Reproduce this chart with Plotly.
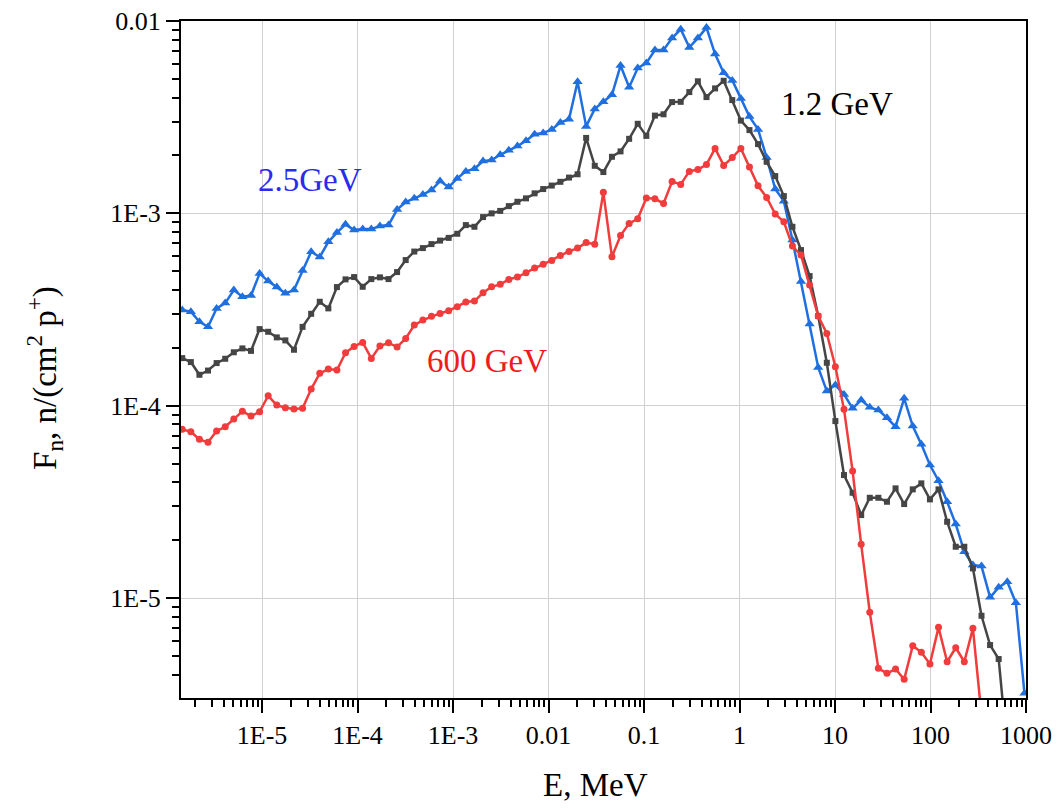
import plotly.graph_objects as go

# Neutron energy grid, MeV
E_MeV = [
    1.459e-6, 1.795e-6, 2.208e-6, 2.716e-6, 3.342e-6, 4.111e-6, 5.058e-6, 6.223e-6, 7.656e-6, 9.419e-6,
    1.159e-5, 1.426e-5, 1.754e-5, 2.158e-5, 2.655e-5, 3.266e-5, 4.018e-5, 4.943e-5, 6.081e-5, 7.482e-5, 9.204e-5,
    1.132e-4, 1.393e-4, 1.714e-4, 2.109e-4, 2.594e-4, 3.192e-4, 3.926e-4, 4.831e-4, 5.943e-4, 7.311e-4, 8.995e-4,
    1.107e-3, 1.361e-3, 1.675e-3, 2.061e-3, 2.535e-3, 3.119e-3, 3.837e-3, 4.721e-3, 5.808e-3, 7.145e-3, 8.790e-3,
    1.081e-2, 1.330e-2, 1.637e-2, 2.014e-2, 2.477e-2, 3.048e-2, 3.750e-2, 4.613e-2, 5.675e-2, 6.982e-2, 8.590e-2,
    0.1057, 0.1300, 0.1600, 0.1968, 0.2421, 0.2979, 0.3664, 0.4508, 0.5546, 0.6823, 0.8395,
    1.033, 1.271, 1.563, 1.923, 2.366, 2.911, 3.581, 4.406, 5.420, 6.668, 8.204,
    10.09, 12.42, 15.28, 18.79, 23.12, 28.44, 34.99, 43.05, 52.97, 65.16, 80.17, 98.63,
    121.3, 149.3, 183.7, 226.0, 278.0, 342.0, 420.7, 517.6, 636.8, 783.4, 963.8,
]

# Neutron fluence per proton, n/(cm^2 p+)
flux_2_5GeV = [
    3.144e-4, 3.081e-4, 2.733e-4, 2.574e-4, 3.208e-4, 3.418e-4, 3.993e-4, 3.686e-4, 3.740e-4, 4.866e-4,
    4.448e-4, 4.139e-4, 3.839e-4, 3.993e-4, 5.044e-4, 6.316e-4, 5.929e-4, 7.119e-4, 7.947e-4, 8.768e-4, 8.189e-4,
    8.288e-4, 8.288e-4, 8.590e-4, 8.694e-4, 1.047e-3, 1.145e-3, 1.197e-3, 1.252e-3, 1.322e-3, 1.472e-3, 1.370e-3,
    1.520e-3, 1.653e-3, 1.705e-3, 1.870e-3, 1.892e-3, 2.017e-3, 2.126e-3, 2.238e-3, 2.384e-3, 2.577e-3, 2.615e-3,
    2.733e-3, 2.964e-3, 3.084e-3, 4.831e-3, 2.833e-3, 3.493e-3, 3.802e-3, 4.134e-3, 5.865e-3, 4.522e-3, 5.692e-3,
    6.043e-3, 7.060e-3, 7.060e-3, 8.150e-3, 9.056e-3, 7.291e-3, 8.150e-3, 9.241e-3, 6.730e-3, 5.381e-3, 4.913e-3,
    3.960e-3, 3.185e-3, 2.733e-3, 1.950e-3, 1.338e-3, 1.158e-3, 7.264e-4, 4.421e-4, 2.658e-4, 1.583e-4, 1.192e-4,
    1.281e-4, 1.146e-4, 9.694e-5, 1.071e-4, 9.811e-5, 9.497e-5, 8.662e-5, 7.779e-5, 1.093e-4, 7.844e-5, 6.302e-5, 4.919e-5,
    4.076e-5, 3.170e-5, 2.427e-5, 1.743e-5, 1.486e-5, 1.468e-5, 1.010e-5, 1.138e-5, 1.217e-5, 9.465e-6, 3.201e-6,
]

flux_1_2GeV = [
    1.769e-4, 1.687e-4, 1.449e-4, 1.524e-4, 1.667e-4, 1.755e-4, 1.897e-4, 1.987e-4, 1.929e-4, 2.503e-4,
    2.424e-4, 2.267e-4, 2.187e-4, 1.955e-4, 2.571e-4, 3.007e-4, 3.472e-4, 3.208e-4, 4.139e-4, 4.539e-4, 4.666e-4,
    4.154e-4, 4.555e-4, 4.650e-4, 4.555e-4, 4.954e-4, 5.719e-4, 6.332e-4, 6.601e-4, 6.924e-4, 7.221e-4, 7.459e-4,
    7.834e-4, 8.694e-4, 8.519e-4, 9.567e-4, 1.000e-3, 1.030e-3, 1.091e-3, 1.149e-3, 1.197e-3, 1.271e-3, 1.338e-3,
    1.395e-3, 1.459e-3, 1.535e-3, 1.597e-3, 2.468e-3, 1.767e-3, 1.640e-3, 1.969e-3, 2.100e-3, 2.441e-3, 2.922e-3,
    2.528e-3, 3.223e-3, 3.274e-3, 3.789e-3, 3.800e-3, 4.271e-3, 4.860e-3, 4.023e-3, 4.464e-3, 4.890e-3, 3.881e-3,
    3.036e-3, 2.710e-3, 2.292e-3, 1.854e-3, 1.563e-3, 1.230e-3, 8.519e-4, 6.445e-4, 4.722e-4, 2.926e-4, 1.673e-4,
    8.327e-5, 4.364e-5, 3.530e-5, 2.703e-5, 3.325e-5, 3.325e-5, 3.170e-5, 3.721e-5, 3.084e-5, 3.677e-5, 3.951e-5, 3.262e-5,
    3.677e-5, 2.495e-5, 1.850e-5, 1.850e-5, 1.428e-5, 8.101e-6, 5.704e-6, 4.826e-6, 1.623e-6,
]

flux_600GeV = [
    7.539e-5, 7.327e-5, 6.690e-5, 6.454e-5, 7.388e-5, 7.779e-5, 8.529e-5, 9.352e-5, 8.841e-5, 9.307e-5,
    1.127e-4, 1.008e-4, 9.763e-5, 9.612e-5, 9.694e-5, 1.221e-4, 1.474e-4, 1.551e-4, 1.533e-4, 1.886e-4, 2.035e-4,
    2.135e-4, 1.763e-4, 2.043e-4, 2.126e-4, 2.019e-4, 2.240e-4, 2.627e-4, 2.789e-4, 2.916e-4, 3.021e-4, 3.118e-4,
    3.270e-4, 3.459e-4, 3.501e-4, 3.867e-4, 4.154e-4, 4.276e-4, 4.539e-4, 4.666e-4, 4.913e-4, 5.197e-4, 5.432e-4,
    5.698e-4, 6.036e-4, 6.346e-4, 6.601e-4, 7.050e-4, 6.908e-4, 1.286e-3, 5.949e-4, 7.665e-4, 8.872e-4, 9.374e-4,
    1.201e-3, 1.191e-3, 1.127e-3, 1.463e-3, 1.415e-3, 1.653e-3, 1.690e-3, 1.793e-3, 2.177e-3, 1.776e-3, 1.950e-3,
    2.177e-3, 1.740e-3, 1.392e-3, 1.211e-3, 9.917e-4, 9.043e-4, 6.761e-4, 6.072e-4, 4.240e-4, 2.926e-4, 2.378e-4,
    1.594e-4, 9.579e-5, 4.577e-5, 1.904e-5, 8.437e-6, 4.316e-6, 4.065e-6, 4.280e-6, 3.784e-6, 5.657e-6, 5.226e-6, 4.544e-6,
    7.050e-6, 4.671e-6, 5.523e-6, 4.671e-6, 6.966e-6, 2.468e-6,
]

X_TICKS = [1e-5, 1e-4, 1e-3, 1e-2, 1e-1, 1, 10, 100, 1000]
X_TICK_TEXT = ["1E-5", "1E-4", "1E-3", "0.01", "0.1", "1", "10", "100", "1000"]
Y_TICKS = [1e-5, 1e-4, 1e-3, 1e-2]
Y_TICK_TEXT = ["1E-5", "1E-4", "1E-3", "0.01"]

# minor ticks at 2..9 within each decade
x_minor = [m * 10.0 ** p for p in range(-6, 3) for m in range(2, 10)]
y_minor = [m * 10.0 ** p for p in range(-6, -2) for m in range(2, 10)]

FONT = "Liberation Serif, Times New Roman, serif"

series = [
    (flux_2_5GeV, "#1f6fe0", "triangle-up", 9),
    (flux_1_2GeV, "#454545", "square", 6),
    (flux_600GeV, "#f03c3c", "circle", 7),
]

fig = go.Figure()
for values, color, symbol, size in series:
    fig.add_trace(go.Scatter(
        x=E_MeV[:len(values)], y=values,
        mode="lines+markers",
        line=dict(color=color, width=2.5),
        marker=dict(symbol=symbol, size=size, color=color),
        showlegend=False,
    ))

axis_common = dict(
    type="log",
    automargin=False,
    showline=True, linewidth=2, linecolor="black", mirror=True,
    ticks="outside", ticklen=13, tickwidth=2, tickcolor="black",
    showgrid=True, gridcolor="#d0d0d0", gridwidth=1,
    tickfont=dict(family=FONT, size=26, color="black"),
    zeroline=False,
)

fig.update_xaxes(
    **axis_common,
    range=[-5.849, 3.0],
    tickvals=X_TICKS, ticktext=X_TICK_TEXT,
    minor=dict(tickvals=x_minor, ticks="outside", ticklen=7, tickwidth=1.5,
               tickcolor="black", showgrid=False),
)
fig.update_yaxes(
    **axis_common,
    range=[-5.519, -2.0],
    tickvals=Y_TICKS, ticktext=Y_TICK_TEXT,
    minor=dict(tickvals=y_minor, ticks="outside", ticklen=7, tickwidth=1.5,
               tickcolor="black", showgrid=False),
)

labels = [
    ("2.5GeV", 0.1527, 0.765, "#2b2bf0", 0),
    ("1.2 GeV", 0.776, 0.877, "black", 0),
    ("600 GeV", 0.362, 0.498, "#ee1c1c", 0),
    ("E, MeV", 0.49, -0.1285, "black", 0),
    ("F<sub>n</sub>, n/(cm<sup>2</sup> p<sup>+</sup>)", -0.161, 0.4727, "black", -90),
]
for text, x, y, color, angle in labels:
    fig.add_annotation(
        text=text, x=x, y=y, xref="paper", yref="paper",
        xanchor="center", yanchor="middle", showarrow=False,
        textangle=angle,
        font=dict(family=FONT, size=33, color=color),
    )

fig.update_layout(
    width=1058, height=808,
    margin=dict(l=181, r=32, t=21, b=110),
    plot_bgcolor="white", paper_bgcolor="white",
)

fig.write_html("out.html")
